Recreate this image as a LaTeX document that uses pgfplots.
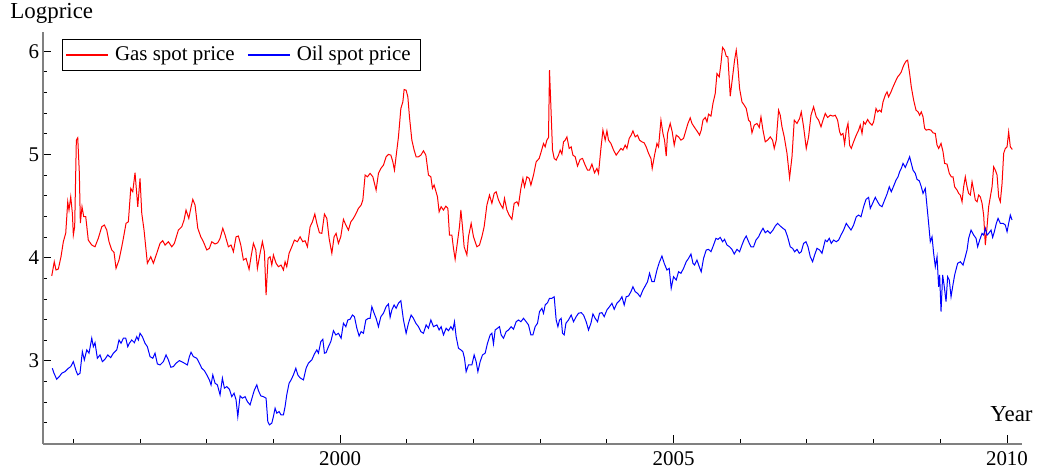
\documentclass[border=0pt]{standalone}
\usepackage{fontspec}
\setmainfont{Liberation Serif}
\usepackage{pgfplots}
\usepackage{pgfplotstable}
\pgfplotsset{compat=1.18}

% weekly log spot prices
\pgfplotstableread{
year logp
1995.676 3.823
1995.714 3.961
1995.740 3.881
1995.775 3.891
1995.815 4.010
1995.850 4.155
1995.886 4.239
1995.916 4.542
1995.935 4.462
1995.961 4.590
1995.985 4.433
1996.000 4.220
1996.020 4.300
1996.045 5.139
1996.066 5.162
1996.090 4.820
1996.105 4.336
1996.130 4.494
1996.156 4.397
1996.186 4.397
1996.224 4.171
1996.276 4.123
1996.325 4.106
1996.374 4.188
1996.426 4.300
1996.465 4.317
1996.501 4.268
1996.535 4.155
1996.576 4.075
1996.610 4.052
1996.640 3.897
1996.685 3.978
1996.726 4.106
1996.750 4.188
1996.790 4.333
1996.825 4.348
1996.861 4.672
1996.891 4.639
1996.925 4.823
1996.966 4.494
1997.000 4.769
1997.026 4.430
1997.060 4.268
1997.110 3.946
1997.161 4.010
1997.200 3.946
1997.251 4.043
1997.300 4.139
1997.340 4.165
1997.375 4.123
1997.425 4.155
1997.476 4.106
1997.515 4.139
1997.575 4.268
1997.626 4.300
1997.660 4.365
1997.690 4.462
1997.731 4.381
1997.761 4.478
1997.791 4.565
1997.825 4.510
1997.866 4.285
1997.911 4.203
1997.950 4.155
1998.001 4.075
1998.040 4.091
1998.076 4.155
1998.125 4.133
1998.166 4.145
1998.200 4.188
1998.241 4.285
1998.275 4.220
1998.325 4.106
1998.365 4.123
1998.400 4.058
1998.440 4.203
1998.475 4.210
1998.511 4.123
1998.550 3.978
1998.590 3.994
1998.635 3.888
1998.665 4.010
1998.700 4.139
1998.736 4.075
1998.760 3.897
1998.800 4.043
1998.835 4.155
1998.865 4.058
1998.890 3.639
1998.920 3.994
1998.950 4.010
1998.976 3.929
1999.000 4.026
1999.040 3.946
1999.075 3.913
1999.115 3.929
1999.150 3.881
1999.175 3.961
1999.200 3.913
1999.235 4.043
1999.276 4.106
1999.315 4.171
1999.360 4.155
1999.400 4.203
1999.440 4.155
1999.475 4.165
1999.510 4.106
1999.550 4.300
1999.585 4.348
1999.621 4.423
1999.651 4.333
1999.690 4.242
1999.726 4.236
1999.765 4.423
1999.801 4.381
1999.835 4.188
1999.876 4.043
1999.910 4.203
1999.940 4.236
1999.975 4.139
2000.010 4.203
2000.050 4.372
2000.086 4.317
2000.125 4.268
2000.161 4.348
2000.200 4.381
2000.240 4.430
2000.275 4.478
2000.315 4.510
2000.341 4.559
2000.375 4.801
2000.410 4.784
2000.450 4.817
2000.491 4.784
2000.540 4.655
2000.575 4.817
2000.611 4.865
2000.650 4.897
2000.690 4.978
2000.725 5.001
2000.761 4.994
2000.791 4.929
2000.815 4.849
2000.851 5.043
2000.875 5.171
2000.911 5.446
2000.941 5.510
2000.960 5.630
2000.990 5.623
2001.016 5.558
2001.040 5.365
2001.076 5.139
2001.110 5.043
2001.140 4.978
2001.175 4.978
2001.211 4.994
2001.250 5.036
2001.286 4.994
2001.325 4.801
2001.361 4.784
2001.385 4.672
2001.410 4.704
2001.460 4.590
2001.485 4.445
2001.515 4.494
2001.550 4.462
2001.586 4.500
2001.616 4.478
2001.640 4.220
2001.676 4.220
2001.700 4.091
2001.725 3.985
2001.760 4.155
2001.790 4.300
2001.811 4.462
2001.835 4.300
2001.860 4.106
2001.901 4.026
2001.925 4.203
2001.965 4.333
2002.000 4.203
2002.051 4.106
2002.090 4.123
2002.126 4.203
2002.160 4.300
2002.201 4.510
2002.240 4.607
2002.276 4.527
2002.310 4.623
2002.340 4.639
2002.375 4.559
2002.411 4.510
2002.441 4.478
2002.465 4.575
2002.501 4.462
2002.535 4.413
2002.576 4.372
2002.610 4.527
2002.651 4.542
2002.675 4.510
2002.711 4.672
2002.741 4.769
2002.765 4.687
2002.801 4.784
2002.835 4.769
2002.861 4.704
2002.900 4.801
2002.940 4.929
2002.985 4.962
2003.015 5.026
2003.050 5.107
2003.075 5.074
2003.100 5.139
2003.125 5.165
2003.140 5.817
2003.161 5.462
2003.185 5.043
2003.210 4.962
2003.240 4.946
2003.275 4.994
2003.300 5.043
2003.326 5.004
2003.350 5.123
2003.375 5.139
2003.401 5.171
2003.435 5.059
2003.465 5.074
2003.491 4.994
2003.525 4.978
2003.560 4.888
2003.600 4.953
2003.635 4.962
2003.675 4.897
2003.710 4.849
2003.740 4.849
2003.776 4.907
2003.815 4.823
2003.851 4.865
2003.875 4.817
2003.911 5.059
2003.941 5.236
2003.975 5.139
2004.001 5.229
2004.025 5.139
2004.061 5.107
2004.100 5.043
2004.140 4.994
2004.175 5.026
2004.211 5.059
2004.241 5.043
2004.275 5.091
2004.301 5.059
2004.335 5.156
2004.365 5.188
2004.391 5.229
2004.425 5.171
2004.460 5.188
2004.490 5.139
2004.526 5.123
2004.560 5.113
2004.590 5.074
2004.625 5.011
2004.661 4.962
2004.680 4.865
2004.715 4.994
2004.751 5.107
2004.775 5.074
2004.811 5.333
2004.841 5.204
2004.865 5.139
2004.890 4.984
2004.910 5.204
2004.950 5.301
2004.980 5.220
2005.010 5.091
2005.040 5.188
2005.075 5.171
2005.111 5.139
2005.150 5.156
2005.186 5.236
2005.216 5.301
2005.250 5.355
2005.276 5.301
2005.315 5.262
2005.360 5.220
2005.390 5.188
2005.415 5.236
2005.441 5.333
2005.475 5.359
2005.501 5.316
2005.525 5.391
2005.561 5.372
2005.591 5.495
2005.625 5.591
2005.651 5.785
2005.685 5.752
2005.711 5.882
2005.735 6.037
2005.765 6.011
2005.790 5.952
2005.815 5.946
2005.850 5.565
2005.885 5.752
2005.915 5.914
2005.940 6.011
2005.960 5.897
2005.990 5.640
2006.026 5.510
2006.060 5.478
2006.090 5.446
2006.125 5.333
2006.150 5.316
2006.176 5.210
2006.210 5.285
2006.251 5.301
2006.285 5.262
2006.311 5.365
2006.341 5.236
2006.375 5.123
2006.410 5.139
2006.450 5.171
2006.485 5.139
2006.510 5.059
2006.540 5.139
2006.575 5.430
2006.600 5.381
2006.626 5.268
2006.660 5.171
2006.701 5.011
2006.740 4.774
2006.776 4.978
2006.810 5.333
2006.851 5.301
2006.890 5.349
2006.915 5.413
2006.950 5.268
2006.990 5.059
2007.025 5.171
2007.061 5.381
2007.100 5.462
2007.140 5.365
2007.175 5.333
2007.211 5.268
2007.241 5.333
2007.275 5.398
2007.310 5.359
2007.350 5.381
2007.391 5.372
2007.425 5.381
2007.460 5.333
2007.490 5.220
2007.511 5.188
2007.541 5.204
2007.565 5.101
2007.590 5.236
2007.616 5.301
2007.640 5.091
2007.665 5.059
2007.700 5.123
2007.740 5.188
2007.775 5.236
2007.800 5.285
2007.826 5.204
2007.850 5.316
2007.875 5.294
2007.910 5.340
2007.940 5.307
2007.976 5.285
2008.000 5.316
2008.036 5.446
2008.060 5.413
2008.090 5.430
2008.115 5.413
2008.141 5.510
2008.175 5.575
2008.201 5.607
2008.225 5.558
2008.261 5.607
2008.291 5.655
2008.325 5.704
2008.360 5.752
2008.390 5.775
2008.415 5.800
2008.441 5.849
2008.465 5.882
2008.490 5.907
2008.510 5.914
2008.540 5.785
2008.565 5.655
2008.600 5.527
2008.636 5.430
2008.666 5.413
2008.690 5.381
2008.715 5.413
2008.741 5.365
2008.765 5.253
2008.790 5.236
2008.825 5.243
2008.861 5.236
2008.891 5.210
2008.925 5.204
2008.951 5.091
2008.975 5.059
2009.011 5.107
2009.041 5.026
2009.065 4.914
2009.101 4.907
2009.135 4.817
2009.165 4.784
2009.191 4.784
2009.215 4.687
2009.251 4.655
2009.275 4.623
2009.300 4.607
2009.326 4.542
2009.350 4.687
2009.375 4.784
2009.401 4.687
2009.425 4.623
2009.450 4.607
2009.476 4.736
2009.500 4.655
2009.525 4.559
2009.551 4.542
2009.575 4.607
2009.600 4.590
2009.626 4.527
2009.650 4.413
2009.675 4.123
2009.701 4.300
2009.725 4.494
2009.750 4.590
2009.776 4.687
2009.800 4.881
2009.825 4.849
2009.851 4.801
2009.875 4.590
2009.900 4.542
2009.926 4.720
2009.950 5.011
2009.975 5.059
2010.001 5.074
2010.025 5.220
2010.050 5.074
2010.080 5.049
}\gasdata

\pgfplotstableread{
year logp
1995.685 2.929
1995.710 2.881
1995.750 2.823
1995.790 2.848
1995.826 2.881
1995.875 2.896
1995.926 2.929
1995.961 2.945
1996.000 2.993
1996.040 2.906
1996.066 2.865
1996.100 2.881
1996.135 3.090
1996.165 3.010
1996.201 3.107
1996.235 3.075
1996.276 3.220
1996.300 3.138
1996.325 3.177
1996.360 3.026
1996.400 3.058
1996.435 2.993
1996.475 3.017
1996.516 3.058
1996.560 3.032
1996.600 3.075
1996.651 3.107
1996.685 3.203
1996.715 3.171
1996.750 3.220
1996.786 3.220
1996.816 3.138
1996.840 3.171
1996.876 3.203
1996.915 3.177
1996.951 3.235
1996.975 3.203
1997.000 3.268
1997.035 3.235
1997.075 3.171
1997.110 3.138
1997.150 3.042
1997.191 3.026
1997.225 3.075
1997.260 2.971
1997.300 2.961
1997.350 2.993
1997.390 3.058
1997.425 3.010
1997.461 2.939
1997.500 2.945
1997.540 2.978
1997.590 3.003
1997.650 2.984
1997.710 2.961
1997.740 3.042
1997.765 3.084
1997.800 3.042
1997.851 3.026
1997.890 2.978
1997.926 2.929
1997.965 2.906
1998.001 2.865
1998.040 2.816
1998.065 2.768
1998.091 2.865
1998.125 2.784
1998.160 2.768
1998.200 2.671
1998.235 2.833
1998.265 2.736
1998.301 2.751
1998.340 2.726
1998.376 2.654
1998.410 2.687
1998.440 2.623
1998.466 2.461
1998.500 2.661
1998.535 2.639
1998.575 2.654
1998.610 2.606
1998.650 2.574
1998.685 2.654
1998.715 2.719
1998.751 2.768
1998.775 2.713
1998.811 2.661
1998.850 2.654
1998.890 2.639
1998.916 2.412
1998.940 2.381
1998.976 2.397
1999.000 2.461
1999.025 2.542
1999.051 2.494
1999.085 2.509
1999.115 2.477
1999.150 2.477
1999.175 2.558
1999.200 2.671
1999.235 2.784
1999.265 2.816
1999.300 2.865
1999.336 2.929
1999.366 2.865
1999.400 2.836
1999.450 2.816
1999.490 2.929
1999.525 2.978
1999.576 3.010
1999.615 3.068
1999.651 3.107
1999.675 3.075
1999.711 3.187
1999.741 3.210
1999.765 3.075
1999.790 3.080
1999.825 3.138
1999.861 3.187
1999.900 3.293
1999.936 3.252
1999.975 3.268
2000.015 3.220
2000.050 3.365
2000.086 3.332
2000.116 3.397
2000.150 3.404
2000.185 3.445
2000.215 3.429
2000.251 3.317
2000.285 3.242
2000.315 3.284
2000.350 3.268
2000.386 3.397
2000.425 3.413
2000.450 3.413
2000.476 3.526
2000.510 3.462
2000.540 3.413
2000.575 3.332
2000.611 3.429
2000.650 3.462
2000.690 3.526
2000.725 3.552
2000.750 3.423
2000.776 3.494
2000.810 3.542
2000.840 3.510
2000.875 3.559
2000.911 3.584
2000.950 3.397
2000.990 3.268
2001.025 3.365
2001.065 3.445
2001.100 3.413
2001.136 3.365
2001.175 3.332
2001.211 3.284
2001.250 3.268
2001.290 3.349
2001.325 3.317
2001.361 3.397
2001.400 3.332
2001.451 3.349
2001.485 3.300
2001.515 3.332
2001.550 3.252
2001.590 3.317
2001.625 3.293
2001.661 3.332
2001.691 3.300
2001.715 3.380
2001.740 3.235
2001.775 3.123
2001.811 3.107
2001.841 3.090
2001.865 3.026
2001.890 2.896
2001.925 2.961
2001.976 2.961
2002.010 3.058
2002.040 2.993
2002.066 2.896
2002.100 2.993
2002.135 3.058
2002.175 3.075
2002.210 3.171
2002.250 3.252
2002.276 3.268
2002.300 3.165
2002.325 3.300
2002.360 3.317
2002.390 3.332
2002.415 3.252
2002.450 3.220
2002.490 3.284
2002.525 3.300
2002.565 3.332
2002.600 3.307
2002.640 3.380
2002.675 3.397
2002.711 3.380
2002.750 3.413
2002.790 3.380
2002.825 3.349
2002.861 3.252
2002.891 3.252
2002.925 3.332
2002.960 3.365
2002.990 3.477
2003.026 3.510
2003.050 3.462
2003.075 3.542
2003.110 3.564
2003.140 3.607
2003.176 3.607
2003.210 3.622
2003.240 3.397
2003.266 3.332
2003.290 3.397
2003.315 3.413
2003.335 3.268
2003.360 3.252
2003.386 3.365
2003.425 3.397
2003.465 3.445
2003.500 3.380
2003.540 3.429
2003.575 3.462
2003.615 3.468
2003.650 3.445
2003.690 3.380
2003.725 3.300
2003.761 3.365
2003.791 3.455
2003.825 3.413
2003.860 3.380
2003.890 3.462
2003.926 3.468
2003.960 3.429
2004.001 3.494
2004.040 3.526
2004.076 3.559
2004.110 3.500
2004.151 3.559
2004.190 3.584
2004.226 3.622
2004.260 3.542
2004.290 3.622
2004.325 3.629
2004.361 3.671
2004.391 3.719
2004.425 3.671
2004.460 3.655
2004.500 3.622
2004.541 3.687
2004.575 3.726
2004.610 3.768
2004.640 3.849
2004.676 3.768
2004.710 3.768
2004.751 3.881
2004.785 3.952
2004.826 4.016
2004.860 3.946
2004.901 3.881
2004.935 3.897
2004.965 3.704
2005.000 3.816
2005.040 3.784
2005.075 3.864
2005.111 3.849
2005.150 3.897
2005.190 3.961
2005.225 3.994
2005.261 4.036
2005.291 3.946
2005.315 3.929
2005.351 3.978
2005.385 3.913
2005.415 3.864
2005.450 3.994
2005.490 4.075
2005.525 4.081
2005.561 4.058
2005.600 4.123
2005.636 4.188
2005.666 4.178
2005.700 4.197
2005.735 4.155
2005.765 4.178
2005.801 4.123
2005.840 4.106
2005.876 4.081
2005.910 4.036
2005.951 4.081
2005.990 4.058
2006.026 4.123
2006.060 4.178
2006.090 4.210
2006.125 4.155
2006.161 4.106
2006.200 4.106
2006.236 4.171
2006.275 4.203
2006.311 4.252
2006.341 4.285
2006.375 4.242
2006.410 4.261
2006.450 4.236
2006.491 4.268
2006.525 4.307
2006.560 4.333
2006.600 4.307
2006.641 4.285
2006.675 4.268
2006.710 4.203
2006.750 4.106
2006.785 4.091
2006.815 4.058
2006.851 4.081
2006.885 4.043
2006.915 4.058
2006.950 4.139
2006.986 4.155
2007.016 4.106
2007.050 4.010
2007.085 3.961
2007.115 4.026
2007.151 4.091
2007.190 4.075
2007.226 4.043
2007.250 4.106
2007.275 4.171
2007.301 4.155
2007.335 4.188
2007.365 4.139
2007.400 4.171
2007.440 4.155
2007.475 4.171
2007.511 4.220
2007.550 4.268
2007.590 4.333
2007.625 4.300
2007.661 4.268
2007.700 4.317
2007.740 4.397
2007.775 4.413
2007.811 4.397
2007.850 4.494
2007.886 4.565
2007.925 4.585
2007.950 4.478
2007.985 4.527
2008.025 4.585
2008.060 4.542
2008.090 4.510
2008.126 4.494
2008.165 4.559
2008.201 4.617
2008.235 4.687
2008.265 4.639
2008.300 4.694
2008.336 4.752
2008.366 4.784
2008.390 4.832
2008.415 4.865
2008.441 4.914
2008.475 4.875
2008.510 4.929
2008.540 4.978
2008.565 4.914
2008.591 4.849
2008.625 4.817
2008.651 4.759
2008.685 4.745
2008.715 4.687
2008.741 4.623
2008.775 4.672
2008.801 4.494
2008.825 4.333
2008.850 4.155
2008.876 4.203
2008.900 4.043
2008.925 3.913
2008.951 4.010
2008.975 3.719
2008.990 3.833
2009.011 3.477
2009.035 3.833
2009.060 3.719
2009.086 3.574
2009.110 3.816
2009.135 3.784
2009.161 3.622
2009.185 3.719
2009.215 3.833
2009.260 3.946
2009.300 3.961
2009.341 3.929
2009.375 4.010
2009.401 4.075
2009.425 4.188
2009.461 4.268
2009.500 4.220
2009.536 4.188
2009.560 4.106
2009.590 4.171
2009.626 4.236
2009.650 4.220
2009.675 4.285
2009.701 4.220
2009.725 4.236
2009.761 4.268
2009.785 4.197
2009.810 4.252
2009.840 4.333
2009.866 4.381
2009.900 4.333
2009.941 4.333
2009.975 4.317
2010.001 4.252
2010.025 4.333
2010.050 4.413
2010.076 4.365
}\oildata

\begin{document}
\begin{tikzpicture}
\path[use as bounding box] (-21.5bp,-15.25bp) rectangle (497bp,221.75bp);
\begin{axis}[
  name=ax, at={(0,0)}, anchor=south west,
  scale only axis, width=489.5bp, height=205.9bp,
  xmin=1995.545, xmax=2010.225, ymin=2.2, ymax=6.19,
  axis lines=left,
  axis line style={-, draw=gray, line width=1bp},
  tick align=inside,
  major tick length=4bp, minor tick length=2bp,
  tick style={black, line width=0.5bp},
  xtick={2000,2005,2010}, xticklabels={2000,2005,2010},
  minor xtick={1996,1997,1998,1999,2001,2002,2003,2004,2006,2007,2008,2009},
  ytick={3,4,5,6}, yticklabels={3,4,5,6},
  minor ytick={2.4,2.6,2.8,3.2,3.4,3.6,3.8,4.2,4.4,4.6,4.8,5.2,5.4,5.6,5.8},
  ticklabel style={font=\fontsize{10.5}{12}\selectfont},
  xticklabel style={yshift=-0.5bp},
  yticklabel style={xshift=1.5bp},
  legend columns=2,
  legend cell align=left,
  legend style={at={(0,1)}, anchor=north west, xshift=9.5bp, yshift=-3.65bp,
    draw=black, line width=0.5bp, inner xsep=1.5bp, inner ysep=1bp,
    font=\fontsize{10.5}{12}\selectfont,
    nodes={inner xsep=3.2bp, inner ysep=2.4bp},
    /tikz/every even column/.append style={column sep=3bp}},
]
\addplot[draw=red, line width=0.5bp,
  legend image code/.code={\draw[red, line width=0.6bp] (0bp,0bp) -- (21bp,0bp);}]
  table[x=year, y=logp] {\gasdata};
\addlegendentry{Gas spot price}
\addplot[draw=blue, line width=0.5bp,
  legend image code/.code={\draw[blue, line width=0.6bp] (0bp,0bp) -- (21bp,0bp);}]
  table[x=year, y=logp] {\oildata};
\addlegendentry{Oil spot price}
\end{axis}
\node[anchor=base west, inner sep=0, font=\fontsize{11.5}{13}\selectfont]
  at ([xshift=-16.5bp, yshift=6.7bp]ax.north west) {Logprice};
\node[anchor=base east, inner sep=0, font=\fontsize{11.5}{13}\selectfont]
  at ([xshift=5.5bp, yshift=10.9bp]ax.south east) {Year};
\end{tikzpicture}
\end{document}
